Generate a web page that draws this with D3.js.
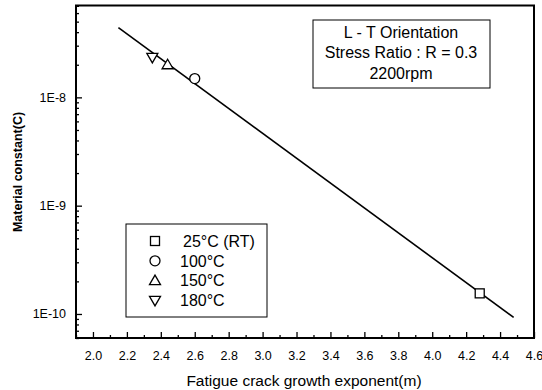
<!DOCTYPE html>
<html>
<head>
<meta charset="utf-8">
<script src="https://cdn.jsdelivr.net/npm/d3@7"></script>
<style>
  body { margin: 0; background: #fff; }
  text { font-family: "Liberation Sans", Arial, sans-serif; fill: #000; }
</style>
</head>
<body>
<svg id="chart" width="542" height="390"></svg>
<script>
// Data
const seriesNames = ["25°C (RT)", "100°C", "150°C", "180°C"];
const seriesM = [4.28, 2.60, 2.44, 2.35];
const seriesC = [1.55e-10, 1.49e-8, 2.0e-8, 2.34e-8];
const seriesSymbols = ["square", "circle", "triangleUp", "triangleDown"];

// Fitted line end points
const fitM = [2.15, 4.48];
const fitC = [4.4e-8, 9.3e-11];

const xTickValues = [2.0, 2.2, 2.4, 2.6, 2.8, 3.0, 3.2, 3.4, 3.6, 3.8, 4.0, 4.2, 4.4, 4.6];
const yTickValues = [1e-8, 1e-9, 1e-10];
const yTickLabels = ["1E-8", "1E-9", "1E-10"];
const noteLines = ["L - T Orientation", "Stress Ratio : R = 0.3", "2200rpm"];

const svg = d3.select("#chart");
const plotL = 76, plotR = 534, plotT = 5.5, plotB = 338;

const x = d3.scaleLinear().domain([1.9, 4.6]).range([plotL, plotR]);
const y = d3.scaleLog().domain([6.0e-11, 7.05e-8]).range([plotB, plotT]);

// minor ticks
const xMinor = d3.range(19, 46).map(d => d / 10).filter(d => Math.round(d * 10) % 2 === 1);
svg.append("g")
  .attr("transform", `translate(0,${plotB})`)
  .call(d3.axisBottom(x).tickValues(xMinor).tickSize(-3).tickFormat(""))
  .call(g => g.select(".domain").remove());

svg.append("g")
  .attr("transform", `translate(0,${plotB})`)
  .call(d3.axisBottom(x).tickValues(xTickValues).tickSize(-6).tickPadding(13)
    .tickFormat(d3.format(".1f")))
  .call(g => g.select(".domain").remove())
  .call(g => g.selectAll("text").style("font-size", "12.5px").attr("font-family", null));

const yMinor = [];
[-11, -10, -9, -8].forEach(e => {
  for (let k = 2; k <= 9; k++) {
    const v = k * Math.pow(10, e);
    if (v >= y.domain()[0] && v <= y.domain()[1]) yMinor.push(v);
  }
});
svg.append("g")
  .attr("transform", `translate(${plotL},0)`)
  .call(d3.axisLeft(y).tickValues(yMinor).tickSize(-3).tickFormat(""))
  .call(g => g.select(".domain").remove());

svg.append("g")
  .attr("transform", `translate(${plotL},0)`)
  .call(d3.axisLeft(y).tickValues(yTickValues).tickSize(-6).tickPadding(10)
    .tickFormat((d, i) => yTickLabels[i]))
  .call(g => g.select(".domain").remove())
  .call(g => g.selectAll("text").style("font-size", "12.5px").attr("font-family", null));

svg.selectAll(".tick line").attr("stroke", "#000").attr("stroke-width", 1.3);

// frame
svg.append("rect")
  .attr("x", plotL).attr("y", plotT)
  .attr("width", plotR - plotL).attr("height", plotB - plotT)
  .attr("fill", "none").attr("stroke", "#000").attr("stroke-width", 2);

// fit line
svg.append("line")
  .attr("x1", x(fitM[0])).attr("y1", y(fitC[0]))
  .attr("x2", x(fitM[1])).attr("y2", y(fitC[1]))
  .attr("stroke", "#000").attr("stroke-width", 1.6);

function drawSymbol(g, type, cx, cy) {
  const s = 4.5;
  if (type === "square") {
    g.append("rect").attr("x", cx - s).attr("y", cy - s).attr("width", 2 * s).attr("height", 2 * s);
  } else if (type === "circle") {
    g.append("circle").attr("cx", cx).attr("cy", cy).attr("r", 5);
  } else if (type === "triangleUp") {
    g.append("path").attr("d", `M${cx},${cy - 5.5}L${cx + 5.5},${cy + 4}L${cx - 5.5},${cy + 4}Z`);
  } else {
    g.append("path").attr("d", `M${cx},${cy + 5.5}L${cx + 5.5},${cy - 4}L${cx - 5.5},${cy - 4}Z`);
  }
}

const pts = svg.append("g").attr("fill", "#fff").attr("stroke", "#000").attr("stroke-width", 1.3);
seriesNames.forEach((n, i) => drawSymbol(pts, seriesSymbols[i], x(seriesM[i]), y(seriesC[i])));

// annotation box
svg.append("rect").attr("x", 313).attr("y", 20).attr("width", 177).attr("height", 68)
  .attr("fill", "#fff").attr("stroke", "#000").attr("stroke-width", 1);
svg.selectAll(".note").data(noteLines).join("text")
  .attr("x", 401).attr("y", (d, i) => 37.7 + i * 20.5)
  .attr("text-anchor", "middle").style("font-size", "16px")
  .text(d => d);

// legend
svg.append("rect").attr("x", 126).attr("y", 224).attr("width", 141).attr("height", 93)
  .attr("fill", "#fff").attr("stroke", "#000").attr("stroke-width", 1);
const leg = svg.append("g").attr("fill", "#fff").attr("stroke", "#000").attr("stroke-width", 1.3);
seriesNames.forEach((n, i) => {
  const cy = 241 + i * 19.8;
  drawSymbol(leg, seriesSymbols[i], 155, cy);
  svg.append("text").attr("x", i === 0 ? 183 : 180).attr("y", cy + 5.7)
    .style("font-size", "16px").text(n);
});

// axis titles
svg.append("text").attr("x", 304).attr("y", 386)
  .attr("text-anchor", "middle").style("font-size", "15.5px")
  .text("Fatigue crack growth exponent(m)");
svg.append("text").attr("transform", "translate(22,172) rotate(-90)")
  .attr("text-anchor", "middle").style("font-size", "12.5px").style("font-weight", "bold")
  .text("Material constant(C)");
</script>
</body>
</html>
